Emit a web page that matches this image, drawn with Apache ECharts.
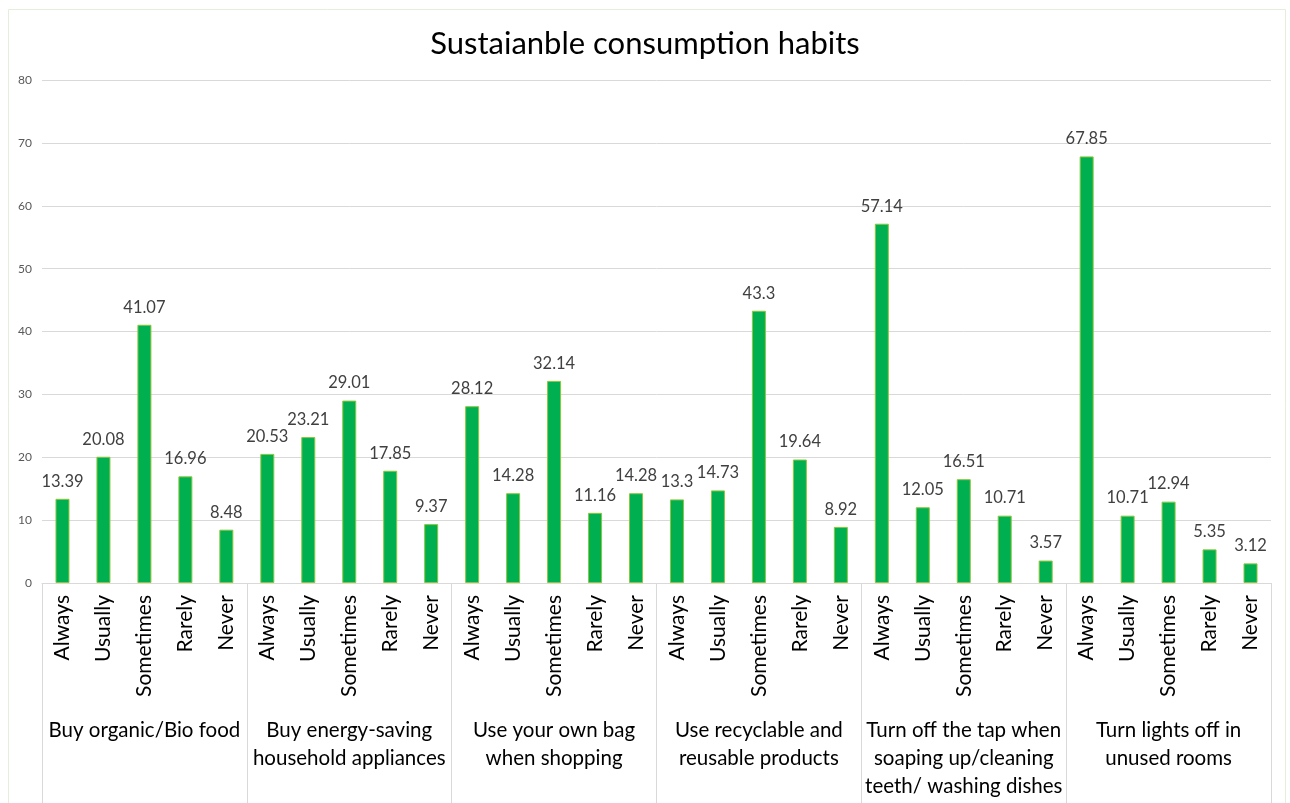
<!DOCTYPE html>
<html>
<head>
<meta charset="utf-8">
<title>Sustaianble consumption habits</title>
<script src="https://cdn.jsdelivr.net/npm/echarts@6/dist/echarts.min.js"></script>
<style>
  html, body { margin: 0; padding: 0; background: #ffffff; }
  #chart { width: 1290px; height: 803px; }
</style>
</head>
<body>
<div id="chart"></div>
<script>
// Survey answers per habit (percent of respondents)
const habits = [
  'Buy organic/Bio food',
  'Buy energy-saving\nhousehold appliances',
  'Use your own bag\nwhen shopping',
  'Use recyclable and\nreusable products',
  'Turn off the tap when\nsoaping up/cleaning\nteeth/ washing dishes',
  'Turn lights off in\nunused rooms'
];
const frequencies = ['Always', 'Usually', 'Sometimes', 'Rarely', 'Never'];

const organicFood      = [13.39, 20.08, 41.07, 16.96, 8.48];
const energySaving     = [20.53, 23.21, 29.01, 17.85, 9.37];
const ownBag           = [28.12, 14.28, 32.14, 11.16, 14.28];
const recyclable       = [13.3, 14.73, 43.3, 19.64, 8.92];
const turnOffTap       = [57.14, 12.05, 16.51, 10.71, 3.57];
const lightsOff        = [67.85, 10.71, 12.94, 5.35, 3.12];

const yTicks = [0, 10, 20, 30, 40, 50, 60, 70, 80];

// Flatten into one category per (habit, frequency) pair
const groups = [organicFood, energySaving, ownBag, recyclable, turnOffTap, lightsOff];
const categories = [];
const values = [];
groups.forEach((g, gi) => {
  g.forEach((v, fi) => {
    categories.push(gi + '|' + frequencies[fi]);
    values.push(v);
  });
});

const FONT = 'Lato, "Open Sans", sans-serif';
const chart = echarts.init(document.getElementById('chart'), null, { renderer: 'canvas' });

chart.setOption({
  backgroundColor: '#ffffff',
  animation: false,
  title: {
    text: 'Sustaianble consumption habits',
    left: 'center',
    top: 23,
    textStyle: { fontFamily: FONT, fontSize: 31, fontWeight: 'normal', color: '#000000' }
  },
  graphic: [{
    type: 'rect',
    shape: { x: 8.5, y: 9.5, width: 1277, height: 800 },
    style: { fill: null, stroke: '#e3efdb', lineWidth: 1 },
    silent: true
  }],
  grid: { left: 42, right: 19, top: 80, bottom: 220, containLabel: false },
  xAxis: [
    {
      type: 'category',
      data: categories,
      boundaryGap: true,
      axisLine: { show: true, lineStyle: { color: '#d9d9d9', width: 1 } },
      axisTick: { show: false },
      axisLabel: {
        interval: 0,
        rotate: 90,
        margin: 12,
        fontFamily: FONT,
        fontSize: 21,
        color: '#000000',
        formatter: v => v.split('|')[1]
      }
    },
    {
      type: 'category',
      position: 'bottom',
      data: habits,
      boundaryGap: true,
      axisLine: { show: false },
      axisTick: { show: true, alignWithLabel: false, length: 222, lineStyle: { color: '#d9d9d9', width: 1 } },
      axisLabel: {
        interval: 0,
        margin: 133,
        fontFamily: FONT,
        fontSize: 20.5,
        lineHeight: 28,
        color: '#000000',
        align: 'center',
        verticalAlign: 'top'
      }
    }
  ],
  yAxis: {
    type: 'value',
    min: yTicks[0],
    max: yTicks[yTicks.length - 1],
    interval: 10,
    axisLine: { show: false },
    axisTick: { show: false },
    axisLabel: { fontFamily: FONT, fontSize: 12, color: '#595959', margin: 10 },
    splitLine: { lineStyle: { color: '#d9d9d9', width: 1 } }
  },
  series: [{
    type: 'bar',
    xAxisIndex: 0,
    data: values,
    barWidth: 14,
    itemStyle: { color: '#00b050', borderColor: '#8cc63f', borderWidth: 1 },
    label: {
      show: true,
      position: 'top',
      distance: 9,
      fontFamily: FONT,
      fontSize: 16.5,
      color: '#404040'
    }
  }]
});
</script>
</body>
</html>
